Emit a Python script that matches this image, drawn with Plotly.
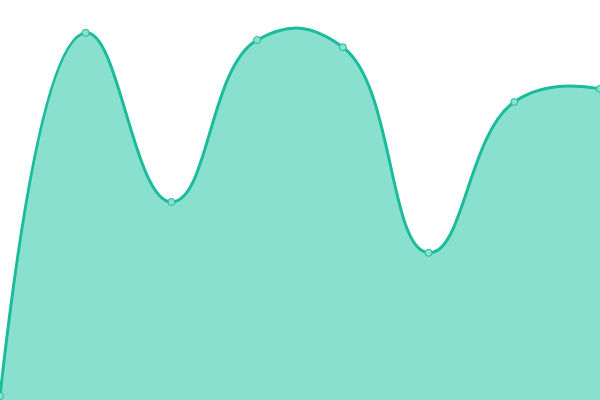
import plotly.graph_objects as go

x_vals = [0, 1, 2, 3, 4, 5, 6, 7]
y_vals = [1, 91.8, 49.5, 90, 88.2, 36.8, 74.5, 77.8]

fig = go.Figure()

fig.add_trace(
    go.Scatter(
        x=x_vals, y=y_vals, mode="lines+markers",
        line=dict(color="#1abc9c", width=3, shape="spline", smoothing=1.3),
        marker=dict(size=7, color="#8be0cf", line=dict(color="#1abc9c", width=1)),
        fill="tozeroy", fillcolor="#8ae0cf",
        cliponaxis=True,
        hoverinfo="skip",
    )
)

fig.update_layout(
    width=600, height=400,
    margin=dict(l=0, r=0, t=0, b=0),
    paper_bgcolor="white", plot_bgcolor="white",
    showlegend=False,
    xaxis=dict(visible=False, range=[0, 7]),
    yaxis=dict(visible=False, range=[0, 100]),
)

# drop the default page margin so the chart sits in the corner
fig.write_html("out.html", config={"displayModeBar": False},
               post_script="document.body.style.margin='0';")
